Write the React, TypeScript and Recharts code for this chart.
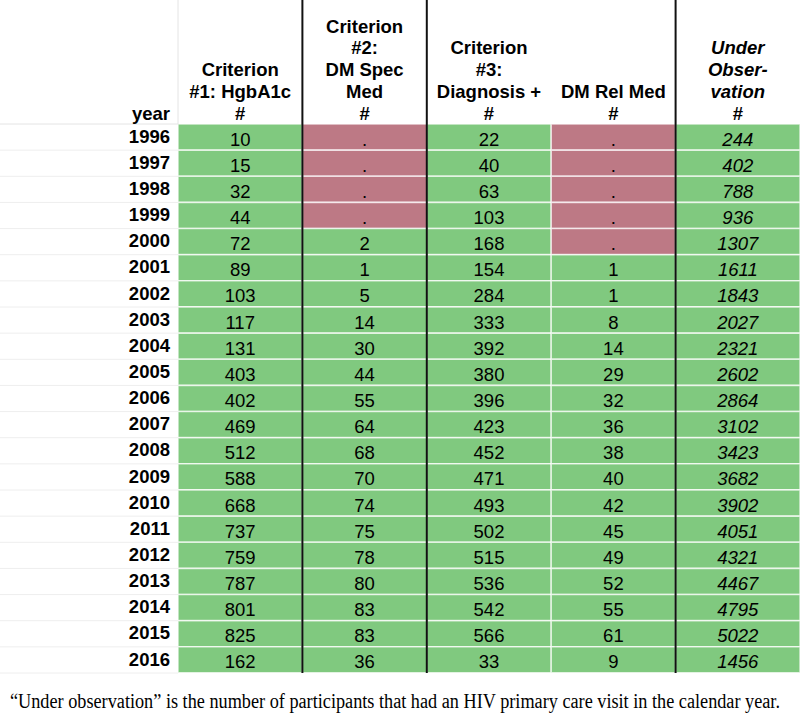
import { BarChart, Bar, XAxis, YAxis, Cell, LabelList, ReferenceLine } from "recharts";

const years = ["1996", "1997", "1998", "1999", "2000", "2001", "2002", "2003", "2004", "2005", "2006",
  "2007", "2008", "2009", "2010", "2011", "2012", "2013", "2014", "2015", "2016"];
const hgbA1c = [10, 15, 32, 44, 72, 89, 103, 117, 131, 403, 402, 469, 512, 588, 668, 737, 759, 787, 801, 825, 162];
const dmSpecMed = [null, null, null, null, 2, 1, 5, 14, 30, 44, 55, 64, 68, 70, 74, 75, 78, 80, 83, 83, 36];
const diagnosis = [22, 40, 63, 103, 168, 154, 284, 333, 392, 380, 396, 423, 452, 471, 493, 502, 515, 536, 542, 566, 33];
const dmRelMed = [null, null, null, null, null, 1, 1, 8, 14, 29, 32, 36, 38, 40, 42, 45, 49, 52, 55, 61, 9];
const underObs = [244, 402, 788, 936, 1307, 1611, 1843, 2027, 2321, 2602, 2864, 3102, 3423, 3682, 3902, 4051,
  4321, 4467, 4795, 5022, 1456];

const columns = [
  { key: "c1", lines: ["Criterion", "#1: HgbA1c", "#"], italic: false, border: "#e4e4e4" },
  { key: "c2", lines: ["Criterion", "#2:", "DM Spec", "Med", "#"], italic: false, border: "#111" },
  { key: "c3", lines: ["Criterion", "#3:", "Diagnosis +", "#"], italic: false, border: "#111" },
  { key: "c4", lines: ["DM Rel Med", "#"], italic: false, border: null },
  { key: "c5", lines: ["Under", "Obser-", "vation", "#"], italic: true, border: "#111" },
];

const rows = years.map((year, i) => ({
  year,
  c1: hgbA1c[i],
  c2: dmSpecMed[i],
  c3: diagnosis[i],
  c4: dmRelMed[i],
  c5: underObs[i],
}));

const GREEN = "#80c97f";
const PINK = "#bd7985";
const FONT = "'Liberation Sans', Arial, sans-serif";
const W = 800;
const H = 714;
const YEAR_W = 178;
const HEAD_H = 124;
const BOTTOM = 41;
const COL_W = (W - YEAR_W) / 5;
const BAND = (H - HEAD_H - BOTTOM) / years.length;
const LINE_H = 21.7;

const HeaderTick = (props: any) => {
  const { x, y, index } = props;
  const col = columns[index];
  const n = col.lines.length;
  const left = x - COL_W / 2;
  return (
    <g>
      {col.border && <line x1={left} x2={left} y1={0} y2={y} stroke={col.border} strokeWidth={index === 0 ? 1 : 2} />}
      {index === 0 && (
        <>
          <line x1={0} x2={YEAR_W} y1={y} y2={y} stroke="#e4e4e4" />
          <text x={left - 8} y={y - 4.5} textAnchor="end" fontFamily={FONT} fontWeight="bold" fontSize={18.5} fill="#000">
            year
          </text>
        </>
      )}
      {col.lines.map((t, k) => (
        <text
          key={k}
          x={x}
          y={y - 4.5 - (n - 1 - k) * LINE_H}
          textAnchor="middle"
          fontFamily={FONT}
          fontWeight="bold"
          fontStyle={col.italic && t !== "#" ? "italic" : "normal"}
          fontSize={18.5}
          fill="#000"
        >
          {t}
        </text>
      ))}
    </g>
  );
};

const YearTick = (props: any) => {
  const { x, y, payload } = props;
  return (
    <g>
      <line x1={0} x2={YEAR_W} y1={y + BAND / 2} y2={y + BAND / 2} stroke="#eeeeee" />
      <text x={x} y={y + 5.6} textAnchor="end" fontFamily={FONT} fontWeight="bold" fontSize={18.5} fill="#000">
        {payload.value}
      </text>
    </g>
  );
};

const cellLabel = (italic: boolean) => (props: any) => {
  const { x, y, width, height, value } = props;
  return (
    <text
      x={x + width / 2}
      y={y + height / 2 + 8.5}
      textAnchor="middle"
      fontFamily={FONT}
      fontStyle={italic ? "italic" : "normal"}
      fontSize={18.5}
      fill="#000"
    >
      {value == null ? "." : value}
    </text>
  );
};

export default function App() {
  return (
    <div style={{ position: "absolute", left: 0, top: 0, width: W, height: H, background: "#fff", overflow: "hidden" }}>
      <BarChart
        width={W}
        height={H}
        data={rows}
        layout="vertical"
        barCategoryGap={0}
        margin={{ top: 0, right: 0, left: 0, bottom: BOTTOM }}
      >
        <XAxis
          type="number"
          orientation="top"
          domain={[0, 5]}
          ticks={[0.5, 1.5, 2.5, 3.5, 4.5]}
          interval={0}
          height={HEAD_H}
          axisLine={false}
          tickLine={false}
          tickSize={0}
          tickMargin={0}
          tick={<HeaderTick />}
        />
        <YAxis
          type="category"
          dataKey="year"
          width={YEAR_W}
          interval={0}
          axisLine={false}
          tickLine={false}
          tickSize={0}
          tickMargin={8}
          tick={<YearTick />}
        />
        {columns.map((col) => (
          <Bar
            key={col.key}
            dataKey={() => 1}
            stackId="t"
            isAnimationActive={false}
            stroke="#ffffff"
            strokeOpacity={0.7}
            strokeWidth={1.5}
          >
            {rows.map((r, i) => (
              <Cell key={i} fill={(r as any)[col.key] == null ? PINK : GREEN} />
            ))}
            <LabelList dataKey={col.key} content={cellLabel(col.italic)} />
          </Bar>
        ))}
        <ReferenceLine x={1} stroke="#111" strokeWidth={2} />
        <ReferenceLine x={2} stroke="#111" strokeWidth={2} />
        <ReferenceLine x={4} stroke="#111" strokeWidth={2} />
      </BarChart>
      <svg width={W} height={30} style={{ position: "absolute", left: 0, top: 684 }}>
        <text x={10} y={23.5} textLength={770} lengthAdjust="spacingAndGlyphs" fontFamily="'Liberation Serif', serif" fontSize={20} fill="#000">
          “Under observation” is the number of participants that had an HIV primary care visit in the calendar year.
        </text>
      </svg>
    </div>
  );
}
